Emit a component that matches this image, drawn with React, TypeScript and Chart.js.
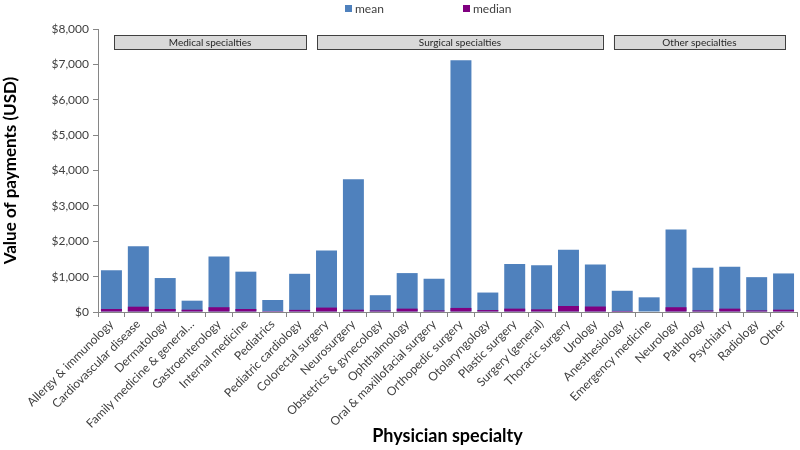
import React, { useEffect, useRef } from "react";
import { Chart, registerables } from "chart.js";

Chart.register(...registerables);

const specialties = [
  "Allergy & immunology",
  "Cardiovascular disease",
  "Dermatology",
  "Family medicine & general…",
  "Gastroenterology",
  "Internal medicine",
  "Pediatrics",
  "Pediatric cardiology",
  "Colorectal surgery",
  "Neurosurgery",
  "Obstetrics & gynecology",
  "Ophthalmology",
  "Oral & maxillofacial surgery",
  "Orthopedic surgery",
  "Otolaryngology",
  "Plastic surgery",
  "Surgery (general)",
  "Thoracic surgery",
  "Urology",
  "Anesthesiology",
  "Emergency medicine",
  "Neurology",
  "Pathology",
  "Psychiatry",
  "Radiology",
  "Other",
];

const meanValues = [
  1180, 1860, 960, 320, 1570, 1140, 340, 1080, 1740, 3750, 475, 1100, 940,
  7120, 550, 1360, 1320, 1760, 1340, 600, 415, 2330, 1250, 1280, 985, 1090,
];

const medianValues = [
  85, 150, 85, 65, 135, 85, 25, 60, 125, 65, 45, 95, 45, 115, 55, 95, 75, 170,
  155, 30, 15, 135, 45, 95, 45, 65,
];

const groupNames = ["Medical specialties", "Surgical specialties", "Other specialties"];
const groupFirst = [0, 8, 19];
const groupLast = [7, 18, 25];

const yTicks = [0, 1000, 2000, 3000, 4000, 5000, 6000, 7000, 8000];

const FONT = "Lato, 'Open Sans', sans-serif";
const AXIS_COLOR = "#868686";
const TEXT_COLOR = "#404040";

const groupBoxPlugin = {
  id: "groupBoxes",
  afterDatasetsDraw(chart: any) {
    const { ctx, chartArea } = chart;
    const x = chart.scales.x;
    const band = x.getPixelForValue(1) - x.getPixelForValue(0);
    const leftInset = [16, 4, 5];
    const rightInset = [7, 6, 12];
    const top = chartArea.top + 6;
    const h = 14;
    ctx.save();
    groupNames.forEach((name, i) => {
      const l = x.getPixelForValue(groupFirst[i]) - band / 2 + leftInset[i];
      const r = x.getPixelForValue(groupLast[i]) + band / 2 - rightInset[i];
      ctx.fillStyle = "#D9D9D9";
      ctx.fillRect(l, top, r - l, h);
      ctx.strokeStyle = "#404040";
      ctx.lineWidth = 1;
      ctx.strokeRect(Math.round(l) + 0.5, top + 0.5, Math.round(r - l), h);
      ctx.fillStyle = "#262626";
      ctx.font = `10px ${FONT}`;
      ctx.textAlign = "center";
      ctx.textBaseline = "middle";
      ctx.fillText(name, (l + r) / 2, top + h / 2 + 1);
    });
    ctx.restore();
  },
};

const legendPlugin = {
  id: "customLegend",
  afterDraw(chart: any) {
    const { ctx } = chart;
    const xs = [345, 463];
    ctx.save();
    ctx.font = `12px ${FONT}`;
    ctx.textBaseline = "middle";
    ctx.textAlign = "left";
    chart.data.datasets.forEach((ds: any, i: number) => {
      ctx.fillStyle = ds.backgroundColor;
      ctx.fillRect(xs[i], 5, 7, 7);
      ctx.fillStyle = TEXT_COLOR;
      ctx.fillText(ds.label, xs[i] + 10, 9);
    });
    ctx.restore();
  },
};

export default function App() {
  const canvasRef = useRef<HTMLCanvasElement>(null);

  useEffect(() => {
    const chart = new Chart(canvasRef.current as HTMLCanvasElement, {
      type: "bar",
      data: {
        labels: specialties,
        datasets: [
          {
            label: "mean",
            data: meanValues,
            backgroundColor: "#4F81BD",
            order: 1,
            barPercentage: 0.78,
            categoryPercentage: 1,
          },
          {
            label: "median",
            data: medianValues,
            backgroundColor: "#800080",
            order: 0,
            barPercentage: 0.78,
            categoryPercentage: 1,
          },
        ],
      },
      options: {
        responsive: false,
        animation: false,
        layout: { padding: { top: 29, right: 3, left: 0, bottom: 0 } },
        plugins: {
          legend: { display: false },
          tooltip: { enabled: false },
        },
        scales: {
          x: {
            stacked: true,
            offset: true,
            afterFit: (s: any) => {
              s.height = 138;
            },
            grid: {
              offset: true,
              drawOnChartArea: false,
              drawTicks: true,
              tickLength: 5,
              color: AXIS_COLOR,
            },
            border: { color: AXIS_COLOR, width: 1 },
            ticks: {
              autoSkip: false,
              maxRotation: 45,
              minRotation: 45,
              padding: 0,
              color: TEXT_COLOR,
              font: { family: FONT, size: 12 },
            },
            title: {
              display: true,
              text: "Physician specialty",
              color: "#000000",
              font: { family: FONT, size: 18, weight: "bold" },
              padding: { top: 0, bottom: 3 },
            },
          },
          y: {
            stacked: false,
            min: 0,
            max: 8000,
            afterFit: (s: any) => {
              s.width = 98;
            },
            afterBuildTicks: (s: any) => {
              s.ticks = yTicks.map((v) => ({ value: v }));
            },
            grid: {
              drawOnChartArea: false,
              drawTicks: true,
              tickLength: 5,
              color: AXIS_COLOR,
            },
            border: { color: AXIS_COLOR, width: 1 },
            ticks: {
              padding: 4,
              color: TEXT_COLOR,
              font: { family: FONT, size: 12 },
              callback: (v: any) => "$" + Number(v).toLocaleString("en-US"),
            },
            title: {
              display: true,
              text: "Value of payments (USD)",
              color: "#000000",
              font: { family: FONT, size: 17, weight: "bold" },
              padding: { top: 0, bottom: 4 },
            },
          },
        },
      },
      plugins: [groupBoxPlugin, legendPlugin],
    });
    return () => chart.destroy();
  }, []);

  return (
    <div style={{ position: "absolute", left: 0, top: 0, width: 800, height: 450, background: "#fff" }}>
      <canvas ref={canvasRef} width={800} height={450} />
    </div>
  );
}
